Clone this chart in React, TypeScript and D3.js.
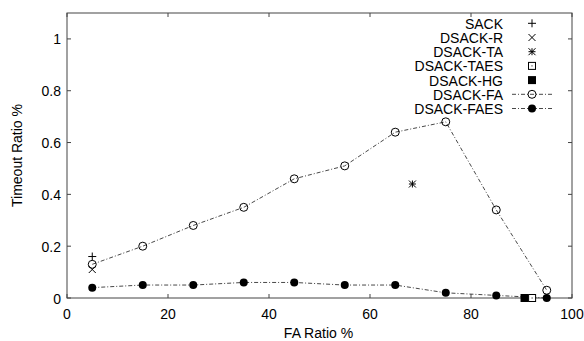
import React from "react";
import * as d3 from "d3";

const faX = [5, 15, 25, 35, 45, 55, 65, 75, 85, 95];
const faValues = [0.13, 0.2, 0.28, 0.35, 0.46, 0.51, 0.64, 0.68, 0.34, 0.03];
const faesValues = [0.04, 0.05, 0.05, 0.06, 0.06, 0.05, 0.05, 0.02, 0.01, 0.0];
const sackPoint = [5, 0.16];
const dsackRPoint = [5, 0.11];
const dsackTAPoint = [68.4, 0.44];
const dsackTAESPoint = [92.1, 0.0];
const dsackHGPoint = [90.6, 0.0];
const legendLabels = ["SACK", "DSACK-R", "DSACK-TA", "DSACK-TAES", "DSACK-HG", "DSACK-FA", "DSACK-FAES"];
const xTicks = [0, 20, 40, 60, 80, 100];
const yTicks = [0, 0.2, 0.4, 0.6, 0.8, 1];

const width = 584;
const height = 341;
const margin = { top: 13, right: 12, bottom: 43, left: 67 };
const font = "Liberation Sans, Arial, sans-serif";
const dash = "4,2,1,2";

const App: React.FC = () => {
  const x = d3.scaleLinear().domain([0, 100]).range([margin.left, width - margin.right]);
  const y = d3.scaleLinear().domain([0, 1.1]).range([height - margin.bottom, margin.top]);
  const line = d3
    .line<[number, number]>()
    .x((d) => x(d[0]))
    .y((d) => y(d[1]));
  const fa = faX.map((v, i) => [v, faValues[i]] as [number, number]);
  const faes = faX.map((v, i) => [v, faesValues[i]] as [number, number]);
  const [x0, x1] = x.range();
  const [y0, y1] = y.range();

  // marker helpers
  const plus = (cx: number, cy: number, s = 4) => (
    <path d={`M${cx - s},${cy}H${cx + s}M${cx},${cy - s}V${cy + s}`} stroke="#000" strokeWidth={1} />
  );
  const cross = (cx: number, cy: number, s = 3.5) => (
    <path d={`M${cx - s},${cy - s}L${cx + s},${cy + s}M${cx - s},${cy + s}L${cx + s},${cy - s}`} stroke="#000" strokeWidth={1} />
  );
  const star = (cx: number, cy: number, s = 3.5) => (
    <g>
      {plus(cx, cy, s)}
      {cross(cx, cy, s)}
    </g>
  );
  const openSq = (cx: number, cy: number, s = 3.5) => (
    <g>
      <rect x={cx - s} y={cy - s} width={2 * s} height={2 * s} fill="#fff" stroke="#000" strokeWidth={1} />
      <rect x={cx - 0.5} y={cy - 0.5} width={1} height={1} fill="#000" />
    </g>
  );
  const fillSq = (cx: number, cy: number, s = 4) => (
    <rect x={cx - s} y={cy - s} width={2 * s} height={2 * s} fill="#000" />
  );
  const openCirc = (cx: number, cy: number) => (
    <circle cx={cx} cy={cy} r={4} fill="none" stroke="#000" strokeWidth={1} />
  );
  const fillCirc = (cx: number, cy: number) => <circle cx={cx} cy={cy} r={4} fill="#000" />;

  const legendTextX = 503;
  const legendSymX = 532;
  const legendY = (i: number) => 23.3 + i * 14.2;

  return (
    <svg width={width} height={height} style={{ position: "absolute", left: 0, top: 0 }}>
      <rect width={width} height={height} fill="#fff" />
      {/* frame */}
      <rect x={x0} y={y1} width={x1 - x0} height={y0 - y1} fill="none" stroke="#444" strokeWidth={1} />
      {xTicks.map((t) => (
        <g key={`xt${t}`}>
          <line x1={x(t)} x2={x(t)} y1={y0} y2={y0 - 4} stroke="#444" />
          <line x1={x(t)} x2={x(t)} y1={y1} y2={y1 + 4} stroke="#444" />
          <text x={x(t)} y={y0 + 21} textAnchor="middle" fontFamily={font} fontSize={14}>
            {t}
          </text>
        </g>
      ))}
      {yTicks.map((t) => (
        <g key={`yt${t}`}>
          <line x1={x0} x2={x0 + 4} y1={y(t)} y2={y(t)} stroke="#444" />
          <line x1={x1} x2={x1 - 4} y1={y(t)} y2={y(t)} stroke="#444" />
          <text x={x0 - 6} y={y(t) + 5.5} textAnchor="end" fontFamily={font} fontSize={14}>
            {t}
          </text>
        </g>
      ))}
      <text x={(x0 + x1) / 2 - 1} y={338} textAnchor="middle" fontFamily={font} fontSize={14}>
        FA Ratio %
      </text>
      <text
        transform={`translate(22,${(y0 + y1) / 2}) rotate(-90)`}
        textAnchor="middle"
        fontFamily={font}
        fontSize={14}
      >
        Timeout Ratio %
      </text>

      {/* series */}
      <path d={line(fa) || ""} fill="none" stroke="#333" strokeWidth={0.9} strokeDasharray={dash} />
      <path d={line(faes) || ""} fill="none" stroke="#333" strokeWidth={0.9} strokeDasharray={dash} />
      {fa.map((d, i) => (
        <g key={`fa${i}`}>{openCirc(x(d[0]), y(d[1]))}</g>
      ))}
      {faes.map((d, i) => (
        <g key={`faes${i}`}>{fillCirc(x(d[0]), y(d[1]))}</g>
      ))}
      {plus(x(sackPoint[0]), y(sackPoint[1]))}
      {cross(x(dsackRPoint[0]), y(dsackRPoint[1]))}
      {star(x(dsackTAPoint[0]), y(dsackTAPoint[1]))}
      {fillSq(x(dsackHGPoint[0]), y(dsackHGPoint[1]))}
      {openSq(x(dsackTAESPoint[0]), y(dsackTAESPoint[1]))}

      {/* legend */}
      {legendLabels.map((l, i) => (
        <text key={l} x={legendTextX} y={legendY(i) + 5.5} textAnchor="end" fontFamily={font} fontSize={14}>
          {l}
        </text>
      ))}
      {plus(legendSymX, legendY(0))}
      {cross(legendSymX, legendY(1))}
      {star(legendSymX, legendY(2))}
      {openSq(legendSymX, legendY(3))}
      {fillSq(legendSymX, legendY(4))}
      <line x1={512} x2={553} y1={legendY(5)} y2={legendY(5)} stroke="#333" strokeWidth={0.9} strokeDasharray={dash} />
      {openCirc(legendSymX, legendY(5))}
      <line x1={512} x2={553} y1={legendY(6)} y2={legendY(6)} stroke="#333" strokeWidth={0.9} strokeDasharray={dash} />
      {fillCirc(legendSymX, legendY(6))}
    </svg>
  );
};

export default App;
